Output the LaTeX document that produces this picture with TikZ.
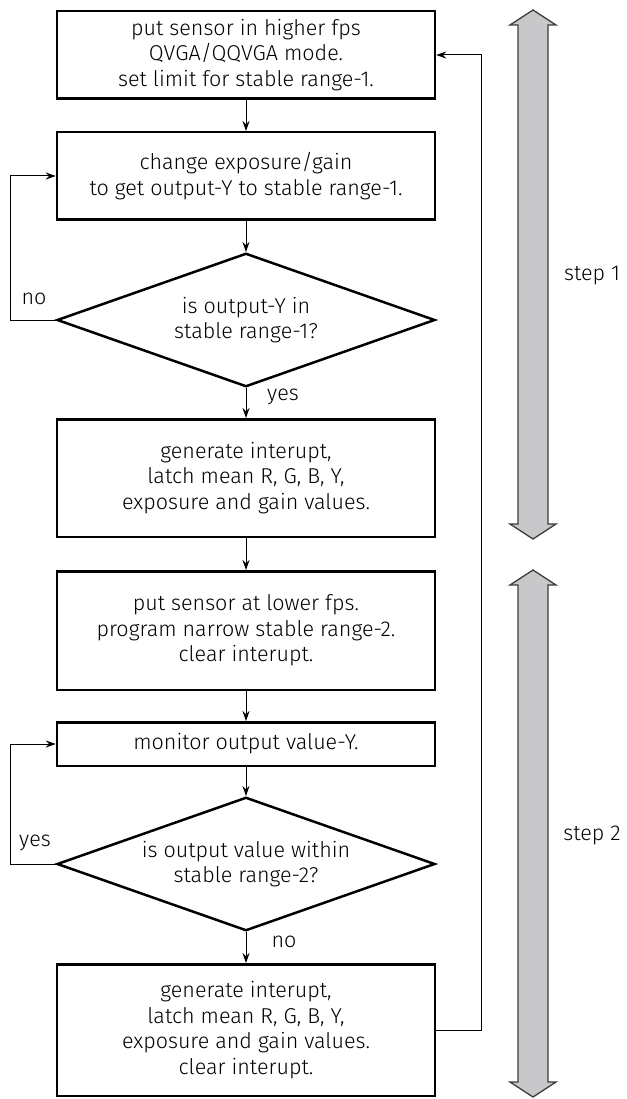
\documentclass[tikz,border=0pt]{standalone}
\usepackage{fontspec}
\setmainfont{Fira Sans Light}
\usepackage{tikz}
\usetikzlibrary{arrows.meta,positioning,calc,shapes.geometric}
\definecolor{bargray}{RGB}{200,200,202}
\definecolor{bardraw}{RGB}{60,60,60}

\begin{document}
\begin{tikzpicture}[
  x=1pt, y=1pt,
  >={Stealth[length=10pt,width=7pt]},
  every node/.style={font=\fontsize{21.5}{25.5}\selectfont},
  stepbox/.style={draw, line width=2.5pt, align=center, minimum width=378pt, minimum height=#1, inner sep=0pt},
  decide/.style={draw, diamond, line width=2.5pt, align=center, aspect=2.78, minimum width=378pt, minimum height=133.5pt, inner sep=0pt},
  flow/.style={->, line width=1pt},
  bar/.style={fill=bargray, draw=bardraw, line width=1.3pt}
]
\useasboundingbox (0,0) rectangle (626,-1099);

% main column
\node[stepbox=87.5pt] (init) at (246,-55) {put sensor in higher fps\\QVGA/QQVGA mode.\\set limit for stable range-1.};
\node[stepbox=87.5pt, below=31pt of init] (adjust) {change exposure/gain\\to get output-Y to stable range-1.};
\node[decide, below=31pt of adjust] (check1) {is output-Y in\\stable range-1?};
\node[stepbox=117.5pt, below=30pt of check1] (latch1) {generate interupt,\\latch mean R, G, B, Y,\\exposure and gain values.};
\node[stepbox=118.5pt, below=32pt of latch1] (lowfps) {put sensor at lower fps.\\program narrow stable range-2.\\clear interupt.};
\node[stepbox=43.5pt, below=30pt of lowfps] (monitor) {monitor output value-Y.};
\node[decide, below=29pt of monitor] (check2) {is output value within\\stable range-2?};
\node[stepbox=131.5pt, below=31pt of check2] (latch2) {generate interupt,\\latch mean R, G, B, Y,\\exposure and gain values.\\clear interupt.};

% straight flow
\foreach \a/\b in {init/adjust,adjust/check1,check1/latch1,latch1/lowfps,lowfps/monitor,monitor/check2,check2/latch2}{\draw[flow] (\a.south) -- (\b.north);}

% loops
\draw[flow] (check1.west) -- ++(-45,0) |- (adjust.west);
\draw[flow] (check2.west) -- ++(-45,0) |- (monitor.west);
\draw[flow] (latch2.east) -- ++(45,0) |- (init.east);

% branch labels
\node (no1) at (34,-299) {no};
\node (yes1) at (283,-397) {yes};
\node (yes2) at (35,-843) {yes};
\node (no2) at (284,-942) {no};

% step bars
\foreach \t/\b in {10/539,570/1097}{
  \draw[bar] (533,-\t) -- (556,-\t-15) -- (548,-\t-15) -- (548,-\b+15) -- (556,-\b+15) -- (533,-\b)
    -- (510,-\b+15) -- (518,-\b+15) -- (518,-\t-15) -- (510,-\t-15) -- cycle;}
\node (step1) at (592,-276) {step 1};
\node (step2) at (592,-835) {step 2};
\end{tikzpicture}
\end{document}
